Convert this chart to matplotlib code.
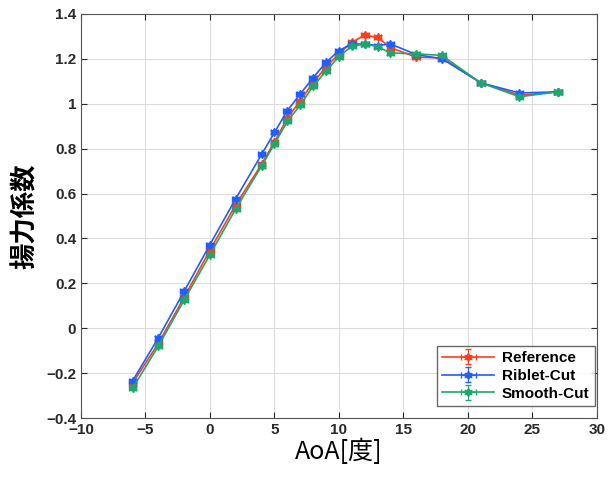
import matplotlib
matplotlib.use('Agg')
import matplotlib.pyplot as plt

plt.rcParams['font.family'] = ['Noto Sans CJK JP', 'DejaVu Sans']

aoa = [-6, -4, -2, 0, 2, 4, 5, 6, 7, 8, 9, 10, 11, 12, 13, 14, 16, 18, 21, 24, 27]
cl_reference = [-0.244, -0.067, 0.138, 0.348, 0.550, 0.730, 0.830, 0.936, 1.013, 1.094,
                1.163, 1.222, 1.273, 1.306, 1.295, 1.250, 1.207, 1.204, 1.093, 1.038, 1.053]
cl_riblet = [-0.234, -0.042, 0.165, 0.373, 0.577, 0.774, 0.872, 0.969, 1.043, 1.116,
             1.184, 1.237, 1.266, 1.266, 1.259, 1.266, 1.219, 1.200, 1.093, 1.048, 1.053]
cl_smooth = [-0.267, -0.079, 0.126, 0.328, 0.532, 0.722, 0.821, 0.921, 0.994, 1.078,
             1.145, 1.210, 1.256, 1.266, 1.254, 1.226, 1.222, 1.215, 1.093, 1.031, 1.053]
aoa_err = 0.3
cl_err = 0.008

labels = ['Reference', 'Riblet-Cut', 'Smooth-Cut']
colors = ['#ff3d1a', '#1f5fff', '#1fa86e']
yticks = [-0.4, -0.2, 0, 0.2, 0.4, 0.6, 0.8, 1.0, 1.2, 1.4]
ytick_labels = ['\u22120.4', '\u22120.2', '0', '0.2', '0.4', '0.6', '0.8', '1', '1.2', '1.4']

fig = plt.figure(figsize=(6.09, 4.79), dpi=100)
ax = fig.add_axes([0.133, 0.127, 0.847, 0.844])

for cl, lab, c in zip([cl_reference, cl_riblet, cl_smooth], labels, colors):
    ax.errorbar(aoa, cl, xerr=aoa_err, yerr=cl_err, color=c, marker=(6, 1, 0),
                markersize=6, linewidth=1.2, elinewidth=0.8, capsize=2, label=lab)

ax.set_xlim(-10, 30)
ax.set_ylim(-0.4, 1.4)
ax.set_xticks(range(-10, 31, 5))
ax.set_yticks(yticks)
ax.set_yticklabels(ytick_labels)
ax.grid(True, color='#dddddd', linewidth=0.8)
ax.tick_params(direction='in', labelsize=11, colors='#2a2a2a', length=4, top=True, right=True)
for lbl in ax.get_xticklabels() + ax.get_yticklabels():
    lbl.set_fontfamily(['Liberation Sans', 'DejaVu Sans'])
    lbl.set_fontweight('bold')
for s in ax.spines.values():
    s.set_color('#555555')

ax.set_xlabel('AoA[度]', fontsize=18, labelpad=1)
ax.set_ylabel('揚力係数', fontsize=19, fontweight='bold', labelpad=5)

leg = ax.legend(loc='lower right', bbox_to_anchor=(0.996, 0.03), frameon=True, fancybox=False,
                edgecolor='#444444', borderpad=0.35, handlelength=3.4,
                labelspacing=0.25, handletextpad=0.5, borderaxespad=0.0,
                prop={'family': ['Liberation Sans', 'DejaVu Sans'], 'weight': 'bold', 'size': 11})
leg.get_frame().set_linewidth(1.0)

fig.savefig('out.png', dpi=100)
